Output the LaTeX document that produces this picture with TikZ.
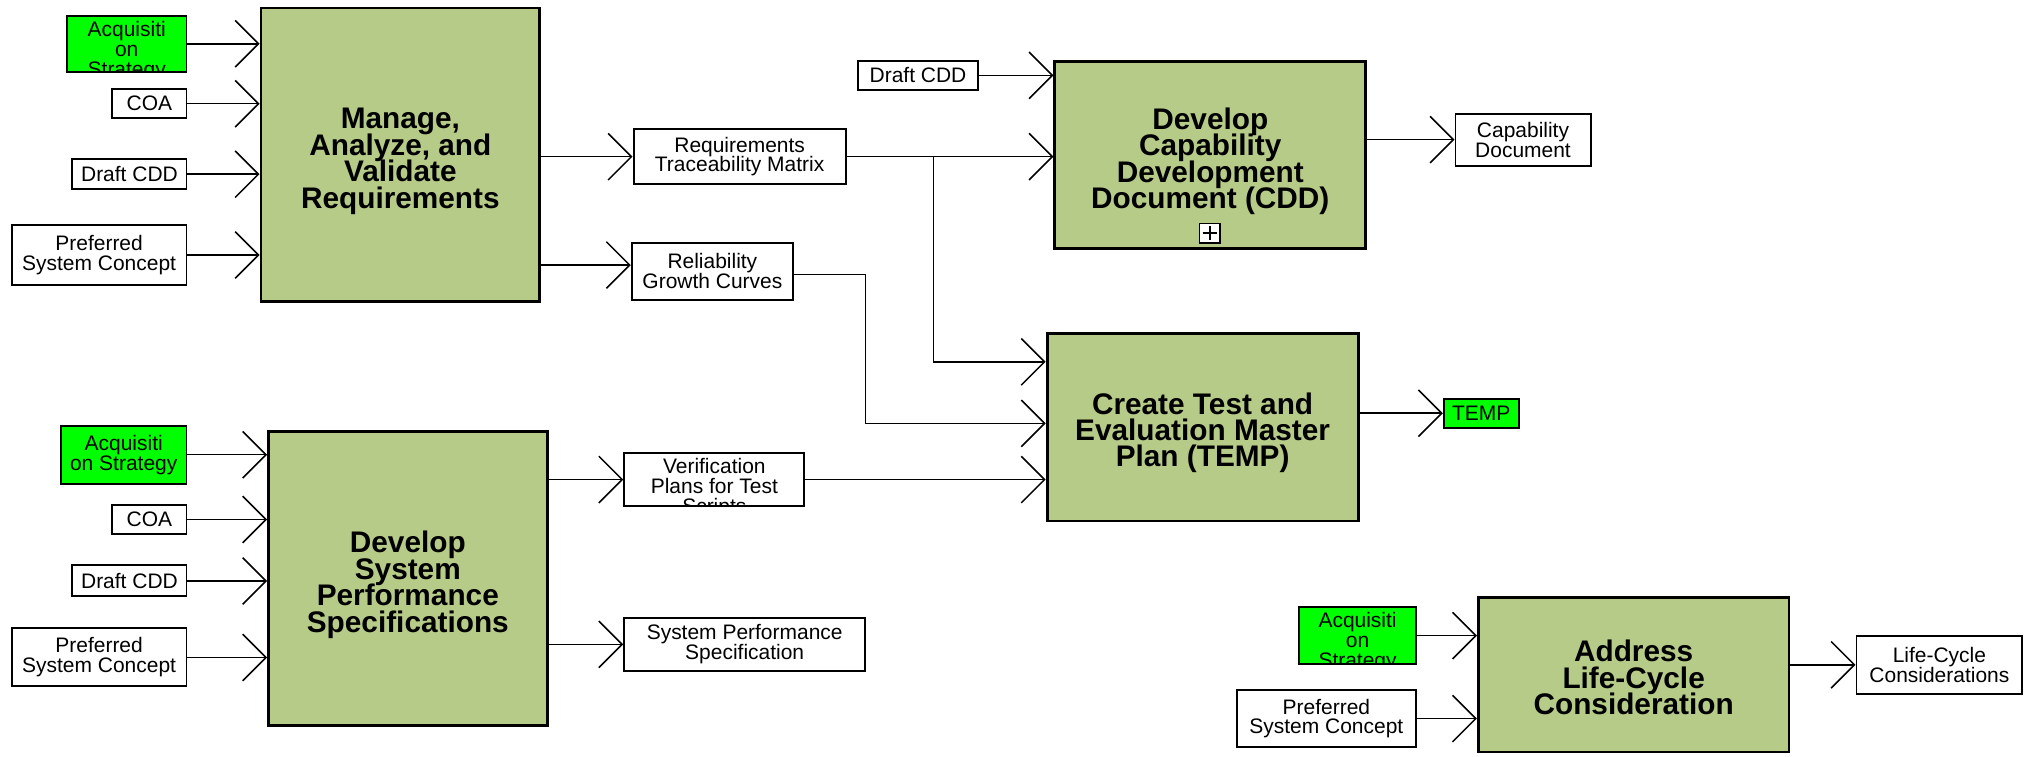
\documentclass[tikz,border=0pt]{standalone}
\usepackage{fontspec}
\setmainfont{Liberation Sans}
\usetikzlibrary{arrows.meta}
\definecolor{actfill}{RGB}{183,203,136}
\definecolor{hlgreen}{RGB}{0,255,0}
\newcommand\mytightlines{\lineskiplimit=-50pt\relax\lineskip=0pt\relax}
\begin{document}
\begin{tikzpicture}[x=1pt,y=-1pt,
  act/.style={draw, line width=2.2pt, fill=actfill, inner sep=0pt},
  acttext/.style={align=center, inner sep=0pt, outer sep=0pt,
    font=\bfseries\fontsize{23}{20.4}\selectfont\mytightlines},
  lab/.style={draw, line width=1.5pt, fill=white, align=center, inner sep=0pt,
    font=\fontsize{16.2}{15.3}\selectfont\mytightlines},
  glab/.style={lab, fill=hlgreen},
  cliptext/.style={inner sep=0pt, outer sep=0pt, align=center, anchor=north,
    font=\fontsize{16.2}{15.3}\selectfont\mytightlines},
  arr/.style={line width=1.2pt, -{Straight Barb[length=18pt,width=36pt]}}
]
\useasboundingbox (0,0) rectangle (1568,584);

% ---------- Manage, Analyze, and Validate Requirements ----------
\node[act, minimum width=215.3pt, minimum height=226.7pt] (manage) at (309.25,119.55) {};
\node[acttext] (managet) at ([yshift=-5pt]manage.center) {Manage,\\Analyze, and\\Validate\\Requirements};
\node[glab, minimum width=92.3pt, minimum height=42.9pt] (acq1) at (97.9,33.8) {};
\begin{scope}
  \clip ([xshift=1.5pt,yshift=1.5pt]acq1.south west) rectangle ([xshift=-1.5pt,yshift=-1.5pt]acq1.north east);
  \node[cliptext] (acq1t) at ([yshift=-5.1pt]acq1.north) {Acquisiti\\on\\Strategy};
\end{scope}
\node[lab, minimum width=57.3pt, minimum height=22.3pt] (coa1) at (115.4,80.1) {COA};
\node[lab, minimum width=88.1pt, minimum height=23.5pt] (draft1) at (100,134.5) {Draft CDD};
\node[lab, minimum width=135pt, minimum height=45.9pt] (pref1) at (76.55,197) {Preferred\\System Concept};

\node[lab, minimum width=163.9pt, minimum height=42.3pt] (rtm) at (571.3,121) {Requirements\\Traceability Matrix};
\node[lab, minimum width=124.6pt, minimum height=44.1pt] (rgc) at (550.25,209.5) {Reliability\\Growth Curves};

% ---------- Develop CDD ----------
\node[act, minimum width=240.1pt, minimum height=144.6pt] (cdd) at (934.85,119.7) {};
\node[acttext] (cddt) at ([yshift=-5pt]cdd.center) {Develop\\Capability\\Development\\Document (CDD)};
\node[draw, line width=1.2pt, fill=white, minimum width=16pt, minimum height=15pt, inner sep=0pt] (plus) at (934.5,180) {};
\draw[line width=1pt] ([xshift=-5.5pt]plus.center) -- ([xshift=5.5pt]plus.center);
\draw[line width=1pt] ([yshift=-5.5pt]plus.center) -- ([yshift=5.5pt]plus.center);
\node[lab, minimum width=92.7pt, minimum height=22.2pt] (dcdd) at (709.1,58.15) {Draft CDD};
\node[lab, minimum width=104.3pt, minimum height=40.2pt] (capdoc) at (1176.4,107.85) {Capability\\Document};

% ---------- Create TEMP ----------
\node[act, minimum width=240.2pt, minimum height=145.1pt] (temp) at (928.9,329.85) {};
\node[acttext] (tempt) at ([yshift=-4.5pt]temp.center) {Create Test and\\Evaluation Master\\Plan (TEMP)};
\node[glab, minimum width=57.7pt, minimum height=22.4pt] (tempout) at (1144.1,319.2) {TEMP};

% ---------- Develop System Performance Specifications ----------
\node[act, minimum width=215.2pt, minimum height=226.9pt] (dsp) at (315,446.75) {};
\node[acttext] (dspt) at ([yshift=-5pt]dsp.center) {Develop\\System\\Performance\\Specifications};
\node[glab, minimum width=97pt, minimum height=44.9pt] (acq2) at (95.55,351.2) {Acquisiti\\on Strategy};
\node[lab, minimum width=57.3pt, minimum height=22.4pt] (coa2) at (115.4,401.25) {COA};
\node[lab, minimum width=88.1pt, minimum height=24pt] (draft2) at (100,448.7) {Draft CDD};
\node[lab, minimum width=135pt, minimum height=44.8pt] (pref2) at (76.55,507.8) {Preferred\\System Concept};

\node[lab, minimum width=139.2pt, minimum height=40.5pt] (verif) at (551.75,370.4) {};
\begin{scope}
  \clip ([xshift=1.5pt,yshift=1.5pt]verif.south west) rectangle ([xshift=-1.5pt,yshift=-1.5pt]verif.north east);
  \node[cliptext] (veriftext) at ([yshift=-4.6pt]verif.north) {Verification\\Plans for Test\\Scripts};
\end{scope}
\node[lab, minimum width=186.1pt, minimum height=41.1pt] (sysperf) at (575.2,497.7) {System Performance\\Specification};

% ---------- Address Life-Cycle Consideration ----------
\node[act, minimum width=239.9pt, minimum height=119.3pt] (address) at (1261.85,521.15) {};
\node[acttext] (addresst) at ([yshift=-2.3pt]address.center) {Address\\Life-Cycle\\Consideration};
\node[glab, minimum width=90.5pt, minimum height=44.3pt] (acq3) at (1048.6,491) {};
\begin{scope}
  \clip ([xshift=1.5pt,yshift=1.5pt]acq3.south west) rectangle ([xshift=-1.5pt,yshift=-1.5pt]acq3.north east);
  \node[cliptext] (acq3t) at ([yshift=-5.1pt]acq3.north) {Acquisiti\\on\\Strategy};
\end{scope}
\node[lab, minimum width=138.7pt, minimum height=44.3pt] (pref3) at (1024.5,555) {Preferred\\System Concept};
\node[lab, minimum width=128.1pt, minimum height=44.9pt] (lcc) at (1498,513.5) {Life-Cycle\\Considerations};

% ---------- connectors ----------
\draw[arr] (acq1.east) -- (acq1.east -| manage.west);
\draw[arr] (coa1.east) -- (coa1.east -| manage.west);
\draw[arr] (draft1.east) -- (draft1.east -| manage.west);
\draw[arr] (pref1.east) -- (pref1.east -| manage.west);
\draw[arr] (manage.east |- rtm.west) -- (rtm.west);
\coordinate (rgcin) at ([yshift=4.8pt]rgc.west);
\draw[arr] (manage.east |- rgcin) -- (rgcin);

\draw[arr] (dcdd.east) -- (dcdd.east -| cdd.west);
\draw[arr] (rtm.east) -- (rtm.east -| cdd.west);
\coordinate (jx) at (720.9,0);
\coordinate (j1) at (rtm.east -| jx);
\coordinate (t1) at ([yshift=50.4pt]temp.west);
\draw[arr] (j1) |- (t1);
\coordinate (rgcout) at ([yshift=-2.4pt]rgc.east);
\coordinate (kx) at (668.5,0);
\coordinate (k2) at (rgcout -| kx);
\coordinate (t2) at ([yshift=2.8pt]temp.west);
\draw[arr] (rgcout) -- (k2) |- (t2);
\draw[arr] (verif.east) -- (verif.east -| temp.west);
\draw[arr] (cdd.east |- capdoc.west) -- (capdoc.west);
\draw[arr] (temp.east |- tempout.west) -- (tempout.west);

\draw[arr] (acq2.east) -- (acq2.east -| dsp.west);
\draw[arr] (coa2.east) -- (coa2.east -| dsp.west);
\draw[arr] (draft2.east) -- (draft2.east -| dsp.west);
\draw[arr] (pref2.east) -- (pref2.east -| dsp.west);
\draw[arr] (dsp.east |- verif.west) -- (verif.west);
\draw[arr] (dsp.east |- sysperf.west) -- (sysperf.west);

\draw[arr] (acq3.east) -- (acq3.east -| address.west);
\draw[arr] (pref3.east) -- (pref3.east -| address.west);
\draw[arr] (address.east |- lcc.west) -- (lcc.west);
\end{tikzpicture}
\end{document}
